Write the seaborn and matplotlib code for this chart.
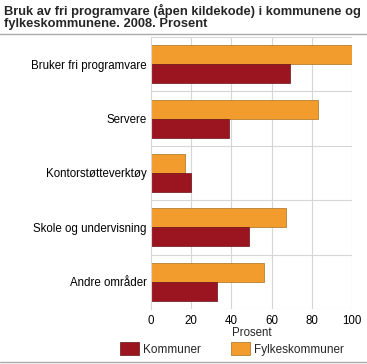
import matplotlib
matplotlib.use("Agg")
import matplotlib.pyplot as plt
import matplotlib.patches as mpatches
import pandas as pd
import seaborn as sns

# data
categories = ["Bruker fri programvare", "Servere", "Kontorstøtteverktøy",
              "Skole og undervisning", "Andre områder"]
kommuner = [69, 39, 20, 49, 33]
fylkeskommuner = [100, 83, 17, 67, 56]

red = "#9b1520"
orange = "#f29c2e"

df = pd.DataFrame({
    "kategori": categories * 2,
    "prosent": fylkeskommuner + kommuner,
    "gruppe": ["Fylkeskommuner"] * 5 + ["Kommuner"] * 5,
})

sns.set_style("white")
plt.rcParams["font.family"] = ["Liberation Sans", "DejaVu Sans"]

fig = plt.figure(figsize=(3.67, 3.64), dpi=100)
ax = fig.add_axes([151 / 367, 1 - 309 / 364, 201 / 367, 272 / 364])

sns.barplot(data=df, y="kategori", x="prosent", hue="gruppe",
            hue_order=["Fylkeskommuner", "Kommuner"],
            palette={"Fylkeskommuner": orange, "Kommuner": red},
            saturation=1, orient="h", width=0.7, ax=ax, legend=False)
for p in ax.patches:
    c = p.get_facecolor()
    p.set_edgecolor("#a8701e" if c[1] > 0.5 else "#6a1015")
    p.set_linewidth(0.5)

ax.set_xlim(0, 100)
ax.set_ylim(4.5, -0.5)
ax.set_xticks([0, 20, 40, 60, 80, 100])
ax.tick_params(axis="both", length=0, labelsize=8.3, colors="#000000")
ax.tick_params(axis="x", pad=4.5)
ax.tick_params(axis="y", pad=3)
ax.set_xlabel("Prosent", fontsize=8.3, labelpad=0)
ax.set_ylabel("")

# grid: vertical lines at ticks, horizontal separators between groups
for x in [20, 40, 60, 80, 100]:
    ax.axvline(x, color="#d6d6d6", lw=0.8, zorder=0)
for y in [-0.5, 0.5, 1.5, 2.5, 3.5, 4.5]:
    ax.axhline(y, color="#d6d6d6", lw=0.8, zorder=0)
for s in ["top", "right", "bottom"]:
    ax.spines[s].set_visible(False)
ax.spines["left"].set_color("#d6d6d6")
ax.spines["left"].set_linewidth(0.8)

fig.text(4 / 367, 1 - 4 / 364,
         "Bruk av fri programvare (åpen kildekode) i kommunene og\nfylkeskommunene. 2008. Prosent",
         fontsize=9.3, fontweight="bold", va="top", ha="left", linespacing=1.0)
fig.add_artist(plt.Line2D([0, 1], [1 - 34 / 364, 1 - 34 / 364], color="#aaaaaa", lw=1))
fig.add_artist(plt.Line2D([0, 1], [1 - 362 / 364, 1 - 362 / 364], color="#aaaaaa", lw=1))

handles = [mpatches.Patch(facecolor=red, edgecolor="#6a1015", lw=0.5, label="Kommuner"),
           mpatches.Patch(facecolor=orange, edgecolor="#a8701e", lw=0.5, label="Fylkeskommuner")]
fig.legend(handles=handles, loc="center", bbox_to_anchor=(232 / 367, 1 - 349 / 364),
           ncol=2, frameon=False, fontsize=8.5, handlelength=1.6, handleheight=1.2,
           handletextpad=0.3, columnspacing=2.6)

fig.savefig("out.png", dpi=100)
